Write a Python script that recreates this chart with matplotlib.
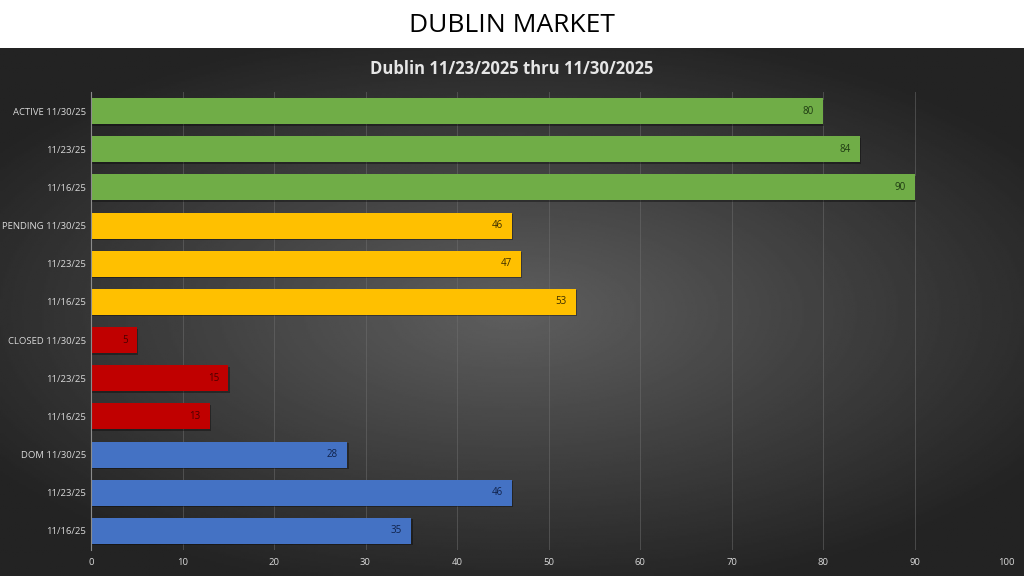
import numpy as np
import matplotlib
matplotlib.use('Agg')
import matplotlib.pyplot as plt

# categories, top to bottom
labels = ['ACTIVE 11/30/25', '11/23/25', '11/16/25',
          'PENDING 11/30/25', '11/23/25', '11/16/25',
          'CLOSED 11/30/25', '11/23/25', '11/16/25',
          'DOM 11/30/25', '11/23/25', '11/16/25']
values = [80, 84, 90, 46, 47, 53, 5, 15, 13, 28, 46, 35]
groups = ['active'] * 3 + ['pending'] * 3 + ['closed'] * 3 + ['dom'] * 3

COLORS = {'active': '#70AD47', 'pending': '#FFC000', 'closed': '#C00000', 'dom': '#4472C4'}
TXT = {'active': '#1e3a12', 'pending': '#3a2c00', 'closed': '#4a0000', 'dom': '#10224a'}

plt.rcParams['font.family'] = ['Open Sans', 'DejaVu Sans']

fig = plt.figure(figsize=(10.24, 5.76), dpi=100)
fig.patch.set_facecolor('white')

# dark panel with radial gradient
bg = fig.add_axes([0, 0, 1, 528 / 576])
yy, xx = np.mgrid[-1:1:300j, -1:1:500j]
r = np.sqrt((xx / 1.0) ** 2 + (yy / 0.9) ** 2)
shade = np.clip(0.37 - 0.19 * r, 0.14, 0.37)
bg.imshow(shade, cmap='gray', vmin=0, vmax=1, aspect='auto', extent=[0, 1, 0, 1])
bg.set_axis_off()

fig.text(0.5, 1 - 25 / 576, 'DUBLIN MARKET', ha='center', va='center',
         fontsize=19, color='black')
fig.text(0.5, 1 - 69 / 576, 'Dublin 11/23/2025 thru 11/30/2025', ha='center', va='center',
         fontsize=12, fontweight='bold', color='#e6e6e6')

ax = fig.add_axes([91 / 1024, 1 - 550 / 576, (1006 - 91) / 1024, (550 - 92) / 576])
ax.set_facecolor('none')
ypos = np.arange(len(values))[::-1]
cols = [COLORS[g] for g in groups]
# soft shadow under each bar
ax.barh(ypos - 0.04, values, height=0.68, left=0.15, color='black', alpha=0.35, zorder=2)
ax.barh(ypos, values, height=0.68, color=cols, zorder=3)
for y, v, g in zip(ypos, values, groups):
    ax.text(v - 1.0, y, str(v), ha='right', va='center', fontsize=7, color=TXT[g], zorder=4)

ax.set_xlim(0, 100)
ax.set_ylim(-0.5, len(values) - 0.5)
ax.set_xticks(np.arange(0, 101, 10))
ax.set_yticks(ypos)
ax.set_yticklabels(labels)
ax.tick_params(axis='both', length=0, colors='#d9d9d9', labelsize=6.8)
ax.tick_params(axis='x', pad=6)
ax.grid(axis='x', color='#707070', lw=0.7, alpha=0.5, zorder=0)
for s in ['top', 'right', 'bottom']:
    ax.spines[s].set_visible(False)
ax.spines['left'].set_color('#8c8c8c')
ax.spines['left'].set_zorder(5)

fig.savefig('out.png', dpi=100, facecolor=fig.get_facecolor())
